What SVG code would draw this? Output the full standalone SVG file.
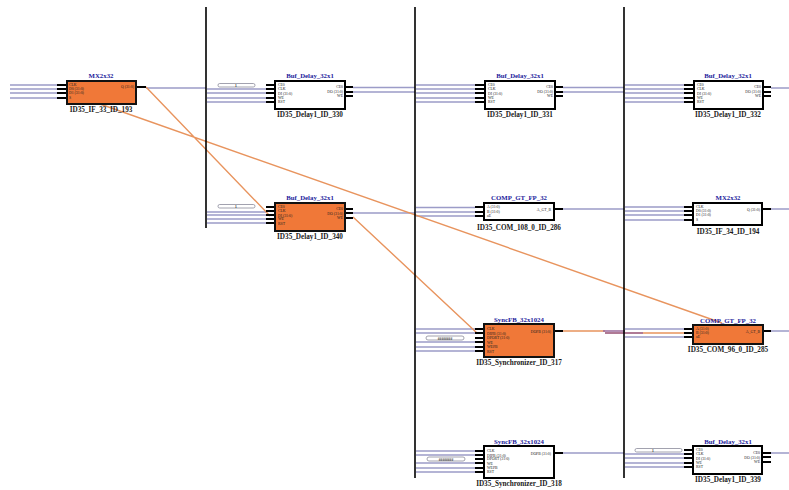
<svg xmlns="http://www.w3.org/2000/svg" width="789" height="490" viewBox="0 0 789 490">
<style>
text{font-family:"Liberation Serif",serif;font-weight:bold;text-anchor:middle}
.t{font-size:6.8px;fill:#1c1c9c}
.l{font-size:7.2px;fill:#1a1a1a}
.p{font-size:3.8px;fill:#222;text-anchor:start;font-weight:normal}
.r{text-anchor:end}
.b{fill:#fff;stroke:#000;stroke-width:2}
.o{fill:#f07838;stroke:#111;stroke-width:2}
.s{stroke:#000;stroke-width:2;fill:none}
.w{stroke:#9c9cc8;stroke-width:1.3;fill:none}
.a{stroke:#e8945e;stroke-width:1.4;fill:none}
.m{stroke:#9a6a9a;stroke-width:1.5;fill:none}
.v{stroke:#000;stroke-width:1.6;fill:none}
.c{fill:#fff;stroke:#8a8a9a;stroke-width:.8}
.n{font-size:3.6px;fill:#333}
</style>
<rect width="789" height="490" fill="#fff"/>
<g id="connectors">
<path class="w" d="M10 85H57M10 89H57M10 93H57M10 98H57"/>
<path class="w" d="M146 88H206M353 87.500H415M353 92H415M563 87.500H624M563 92H624M771 88H789"/>
<path class="w" d="M207 89H266M207 93H266M207 98H266M207 102H266"/>
<path class="w" d="M416 85H475M416 89H475M416 93H475M416 98H475M416 102H475"/>
<path class="w" d="M625 85H684M625 89H684M625 93H684M625 98H684M625 102H684"/>
<path class="w" d="M207 212H266M207 215H266M207 219H266M207 223H266"/>
<path class="w" d="M353 213H415M416 207.500H475M416 212H475M416 216H475"/>
<path class="w" d="M563 209H624M625 207H684M625 211H684M625 215H684M625 220H684M771 209H789"/>
<path class="w" d="M416 329H475M416 333H475M416 342H475M416 347H475M416 351H475"/>
<path class="w" d="M625 329H684M625 337H684M771 331H789"/>
<path class="w" d="M416 451H475M416 455H475M416 463H475M416 468H475M416 472H475"/>
<path class="w" d="M563 453H624M625 454H684M625 458H684M625 463H684M625 467H684M771 453H789"/>
<path class="a" d="M146 87L270 216M100 104L722 323M353 217L477 333M563 331H605M605 333H684"/>
<path class="m" d="M603 331H625M605 333H643"/>
<path class="v" d="M206 7V228M415 7V478M624 7V478"/>
<rect class="c" x="218" y="83.500" width="37" height="3.500" rx="1.700"/><text class="n" x="236" y="87">1</text>
<rect class="c" x="218" y="204.500" width="37" height="3.500" rx="1.700"/><text class="n" x="236" y="208">1</text>
<rect class="c" x="426" y="336" width="38" height="4" rx="2"/><text class="n" x="445" y="339.500">########</text>
<rect class="c" x="427" y="457" width="38" height="4" rx="2"/><text class="n" x="446" y="460.500">########</text>
<rect class="c" x="635" y="448.500" width="47" height="3.500" rx="1.700"/><text class="n" x="653" y="452">1</text>
</g>
<g id="ID35_IF_33_ID_193">
<path class="s" d="M57 85H67M57 89H67M57 93H67M57 98H67M136 87H146"/>
<rect class="o" x="67" y="81" width="69" height="23"/>
<text class="t" x="101" y="78">MX2x32</text><text class="l" x="101" y="112">ID35_IF_33_ID_193</text>
<text class="p" x="69" y="86">CLK</text><text class="p" x="69" y="90">D0 (31:0)</text><text class="p" x="69" y="94">D1 (31:0)</text><text class="p" x="69" y="99">S</text><text class="p r" x="134" y="88">Q (31:0)</text>
</g>
<g id="ID35_Delay1_ID_330">
<path class="s" d="M266 85H275M266 89H275M266 93H275M266 98H275M266 102H275M345 87H353M345 92H353M345 96H353"/>
<rect class="b" x="275" y="81" width="70" height="28"/>
<text class="t" x="310" y="78">Buf_Delay_32x1</text><text class="l" x="310" y="117">ID35_Delay1_ID_330</text>
<text class="p" x="278" y="86">CE0</text><text class="p" x="278" y="90">CLK</text><text class="p" x="278" y="94.500">DI (31:0)</text><text class="p" x="278" y="99">WE</text><text class="p" x="278" y="103">RST</text>
<text class="p r" x="343" y="88">CE0</text><text class="p r" x="343" y="93">DO (31:0)</text><text class="p r" x="343" y="97">WE</text>
</g>
<g id="ID35_Delay1_ID_331">
<path class="s" d="M475 85H485M475 89H485M475 93H485M475 98H485M475 102H485M555 87H563M555 92H563M555 96H563"/>
<rect class="b" x="485" y="81" width="70" height="28"/>
<text class="t" x="520" y="78">Buf_Delay_32x1</text><text class="l" x="520" y="117">ID35_Delay1_ID_331</text>
<text class="p" x="488" y="86">CE0</text><text class="p" x="488" y="90">CLK</text><text class="p" x="488" y="94.500">DI (31:0)</text><text class="p" x="488" y="99">WE</text><text class="p" x="488" y="103">RST</text>
<text class="p r" x="553" y="88">CE0</text><text class="p r" x="553" y="93">DO (31:0)</text><text class="p r" x="553" y="97">WE</text>
</g>
<g id="ID35_Delay1_ID_332">
<path class="s" d="M684 85H694M684 89H694M684 93H694M684 98H694M684 102H694M763 87H771M763 92H771M763 96H771"/>
<rect class="b" x="694" y="81" width="69" height="28"/>
<text class="t" x="728" y="78">Buf_Delay_32x1</text><text class="l" x="728" y="117">ID35_Delay1_ID_332</text>
<text class="p" x="697" y="86">CE0</text><text class="p" x="697" y="90">CLK</text><text class="p" x="697" y="94.500">DI (31:0)</text><text class="p" x="697" y="99">WE</text><text class="p" x="697" y="103">RST</text>
<text class="p r" x="761" y="88">CE0</text><text class="p r" x="761" y="93">DO (31:0)</text><text class="p r" x="761" y="97">WE</text>
</g>
<g id="ID35_Delay1_ID_340">
<path class="s" d="M266 207H275M266 211H275M266 215H275M266 219H275M266 223H275M345 209H353M345 213H353M345 218H353"/>
<rect class="o" x="275" y="203" width="70" height="28"/>
<text class="t" x="310" y="200">Buf_Delay_32x1</text><text class="l" x="310" y="239">ID35_Delay1_ID_340</text>
<text class="p" x="278" y="208">CE0</text><text class="p" x="278" y="212">CLK</text><text class="p" x="278" y="216.500">DI (31:0)</text><text class="p" x="278" y="220">WE</text><text class="p" x="278" y="224.500">RST</text>
<text class="p r" x="343" y="210">CE0</text><text class="p r" x="343" y="214.500">DO (31:0)</text><text class="p r" x="343" y="219">WE</text>
</g>
<g id="ID35_COM_108_0_ID_286">
<path class="s" d="M475 207H484M475 212H484M475 216H484M554 209H563"/>
<rect class="b" x="484" y="203" width="70" height="17"/>
<text class="t" x="519" y="200">COMP_GT_FP_32</text><text class="l" x="519" y="230">ID35_COM_108_0_ID_286</text>
<text class="p" x="487" y="208">A (31:0)</text><text class="p" x="487" y="212.500">B (31:0)</text><text class="p" x="487" y="217">aE</text><text class="p r" x="551" y="210.500">A_GT_B</text>
</g>
<g id="ID35_IF_34_ID_194">
<path class="s" d="M684 207H693M684 211H693M684 215H693M684 220H693M762 209H771"/>
<rect class="b" x="693" y="203" width="69" height="22"/>
<text class="t" x="728" y="200">MX2x32</text><text class="l" x="728" y="234">ID35_IF_34_ID_194</text>
<text class="p" x="696" y="208">CLK</text><text class="p" x="696" y="212">D0 (31:0)</text><text class="p" x="696" y="216">D1 (31:0)</text><text class="p" x="696" y="221">S</text><text class="p r" x="760" y="210.500">Q (31:0)</text>
</g>
<g id="ID35_Synchronizer_ID_317">
<path class="s" d="M475 329H484M475 333H484M475 338H484M475 342H484M475 347H484M475 351H484M554 331H563"/>
<rect class="o" x="484" y="324" width="70" height="33"/>
<text class="t" x="519" y="322">SyncFB_32x1024</text><text class="l" x="519" y="365">ID35_Synchronizer_ID_317</text>
<text class="p" x="487" y="330">CLK</text><text class="p" x="487" y="334.500">DIPB (31:0)</text><text class="p" x="487" y="339">DPORT (31:0)</text><text class="p" x="487" y="343.500">WE</text><text class="p" x="487" y="348">WEPB</text><text class="p" x="487" y="352.500">RST</text><text class="p r" x="551" y="332.500">DOPB (31:0)</text>
</g>
<g id="ID35_COM_96_0_ID_285">
<path class="s" d="M684 329H693M684 333H693M684 337H693M763 331H771"/>
<rect class="o" x="693" y="325" width="70" height="19"/>
<text class="t" x="728" y="323">COMP_GT_FP_32</text><text class="l" x="728" y="352">ID35_COM_96_0_ID_285</text>
<text class="p" x="696" y="330">A (31:0)</text><text class="p" x="696" y="334">B (31:0)</text><text class="p" x="696" y="338">aE</text><text class="p r" x="760" y="332.500">A_GT_B</text>
</g>
<g id="ID35_Synchronizer_ID_318">
<path class="s" d="M475 451H484M475 455H484M475 459H484M475 463H484M475 468H484M475 472H484M554 453H563"/>
<rect class="b" x="484" y="446" width="70" height="32"/>
<text class="t" x="519" y="444">SyncFB_32x1024</text><text class="l" x="519" y="486">ID35_Synchronizer_ID_318</text>
<text class="p" x="487" y="452">CLK</text><text class="p" x="487" y="456.500">DIPB (31:0)</text><text class="p" x="487" y="460">DPORT (31:0)</text><text class="p" x="487" y="464.500">WE</text><text class="p" x="487" y="469">WEPB</text><text class="p" x="487" y="473">RST</text><text class="p r" x="551" y="454.500">DOPB (31:0)</text>
</g>
<g id="ID35_Delay1_ID_339">
<path class="s" d="M684 450H693M684 454H693M684 458H693M684 463H693M684 467H693M762 453H771M762 457H771M762 462H771"/>
<rect class="b" x="693" y="446" width="69" height="28"/>
<text class="t" x="728" y="444">Buf_Delay_32x1</text><text class="l" x="728" y="482">ID35_Delay1_ID_339</text>
<text class="p" x="696" y="451">CE0</text><text class="p" x="696" y="455">CLK</text><text class="p" x="696" y="459.500">DI (31:0)</text><text class="p" x="696" y="464">WE</text><text class="p" x="696" y="468">RST</text>
<text class="p r" x="760" y="454">CE0</text><text class="p r" x="760" y="458.500">DO (31:0)</text><text class="p r" x="760" y="463">WE</text>
</g>
</svg>
